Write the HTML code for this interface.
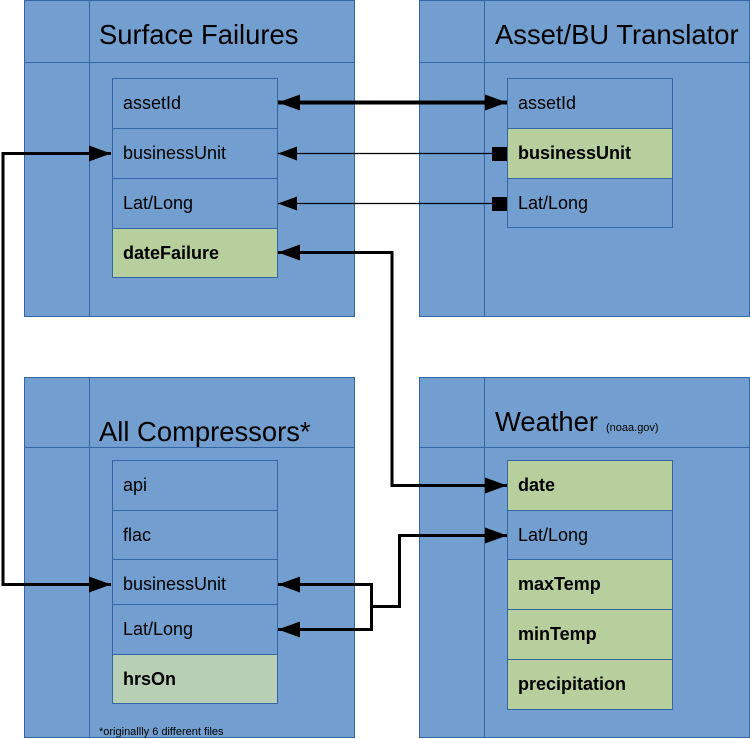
<!DOCTYPE html>
<html><head><meta charset="utf-8"><style>
html,body{margin:0;padding:0;background:#fff;width:750px;height:739px;overflow:hidden}
svg{display:block}
text{font-family:"Liberation Sans",sans-serif;fill:#000}
</style></head><body>
<svg width="750" height="739" viewBox="0 0 750 739" xmlns="http://www.w3.org/2000/svg">
<defs>
<marker id="at" markerWidth="22" markerHeight="16" refX="22" refY="8" orient="auto" markerUnits="userSpaceOnUse"><path d="M0,0 L22,8 L0,16 z" fill="#000"/></marker>
<marker id="ats" markerWidth="22" markerHeight="16" refX="22" refY="8" orient="auto-start-reverse" markerUnits="userSpaceOnUse"><path d="M0,0 L22,8 L0,16 z" fill="#000"/></marker>
<marker id="tn" markerWidth="19" markerHeight="14" refX="19" refY="7" orient="auto" markerUnits="userSpaceOnUse"><path d="M0,0 L19,7 L0,14 z" fill="#000"/></marker>
</defs>
<g fill="#729fcf" stroke="#3465a4" stroke-width="1">
<rect x="24.5" y="0.5" width="330" height="316"/>
<line x1="89.5" y1="0" x2="89.5" y2="316"/><line x1="24" y1="62.5" x2="354" y2="62.5"/>
<rect x="112.5" y="78.5" width="165" height="50"/>
<rect x="112.5" y="128.5" width="165" height="50"/>
<rect x="112.5" y="178.5" width="165" height="50"/>
<rect x="112.5" y="228.5" width="165" height="49" fill="#b7cf9c"/>
<rect x="419.5" y="0.5" width="330" height="316"/>
<line x1="484.5" y1="0" x2="484.5" y2="316"/><line x1="419" y1="62.5" x2="749" y2="62.5"/>
<rect x="507.5" y="78.5" width="165" height="50"/>
<rect x="507.5" y="128.5" width="165" height="50" fill="#b7cf9c"/>
<rect x="507.5" y="178.5" width="165" height="49"/>
<rect x="24.5" y="377.5" width="330" height="360"/>
<line x1="89.5" y1="377" x2="89.5" y2="737"/><line x1="24" y1="447.5" x2="354" y2="447.5"/>
<rect x="112.5" y="460.5" width="165" height="50"/>
<rect x="112.5" y="510.5" width="165" height="49"/>
<rect x="112.5" y="559.5" width="165" height="45"/>
<rect x="112.5" y="604.5" width="165" height="50"/>
<rect x="112.5" y="654.5" width="165" height="49" fill="#b7cfb4"/>
<rect x="419.5" y="377.5" width="330" height="360"/>
<line x1="484.5" y1="377" x2="484.5" y2="737"/><line x1="419" y1="447.5" x2="749" y2="447.5"/>
<rect x="507.5" y="460.5" width="165" height="50" fill="#b7cf9c"/>
<rect x="507.5" y="510.5" width="165" height="49"/>
<rect x="507.5" y="559.5" width="165" height="50" fill="#b7cf9c"/>
<rect x="507.5" y="609.5" width="165" height="50" fill="#b7cf9c"/>
<rect x="507.5" y="659.5" width="165" height="50" fill="#b7cf9c"/>
</g>
<text x="99" y="44" font-size="27.4">Surface Failures</text>
<text x="495" y="44" font-size="27.4">Asset/BU Translator</text>
<text x="99" y="441" font-size="27.4">All Compressors*</text>
<text x="495" y="431" font-size="27.4">Weather</text>
<text x="606" y="431" font-size="11">(noaa.gov)</text>
<g font-size="18">
<text x="123" y="109">assetId</text>
<text x="123" y="159">businessUnit</text>
<text x="123" y="209">Lat/Long</text>
<text x="123" y="259" font-weight="bold">dateFailure</text>
<text x="518" y="109">assetId</text>
<text x="518" y="159" font-weight="bold">businessUnit</text>
<text x="518" y="209">Lat/Long</text>
<text x="123" y="491">api</text>
<text x="123" y="541">flac</text>
<text x="123" y="590">businessUnit</text>
<text x="123" y="635">Lat/Long</text>
<text x="123" y="685" font-weight="bold">hrsOn</text>
<text x="518" y="491" font-weight="bold">date</text>
<text x="518" y="541">Lat/Long</text>
<text x="518" y="590" font-weight="bold">maxTemp</text>
<text x="518" y="640" font-weight="bold">minTemp</text>
<text x="518" y="690" font-weight="bold">precipitation</text>
</g>
<text x="99" y="735" font-size="11">*originallly 6 different files</text>
<g fill="none" stroke="#000">
<line x1="278" y1="102.5" x2="507" y2="102.5" stroke-width="4" marker-start="url(#ats)" marker-end="url(#ats)"/>
<line x1="497" y1="153.5" x2="278" y2="153.5" stroke-width="1.3" marker-end="url(#tn)"/>
<line x1="497" y1="203.5" x2="278" y2="203.5" stroke-width="1.3" marker-end="url(#tn)"/>
<polyline points="507,485.5 392,485.5 392,252.5 278,252.5" stroke-width="3" marker-start="url(#ats)" marker-end="url(#at)"/>
<polyline points="111,153.5 3,153.5 3,584.5 111,584.5" stroke-width="3" marker-start="url(#ats)" marker-end="url(#at)"/>
<polyline points="507,535.5 399.5,535.5 399.5,606.5 371.5,606.5" stroke-width="3" marker-start="url(#ats)"/>
<polyline points="278,584.5 371.5,584.5 371.5,629.5 278,629.5" stroke-width="3" marker-start="url(#ats)" marker-end="url(#at)"/>
</g>
<rect x="492" y="147" width="15" height="14" fill="#000"/>
<rect x="492" y="197" width="15" height="14" fill="#000"/>
</svg>
</body></html>
